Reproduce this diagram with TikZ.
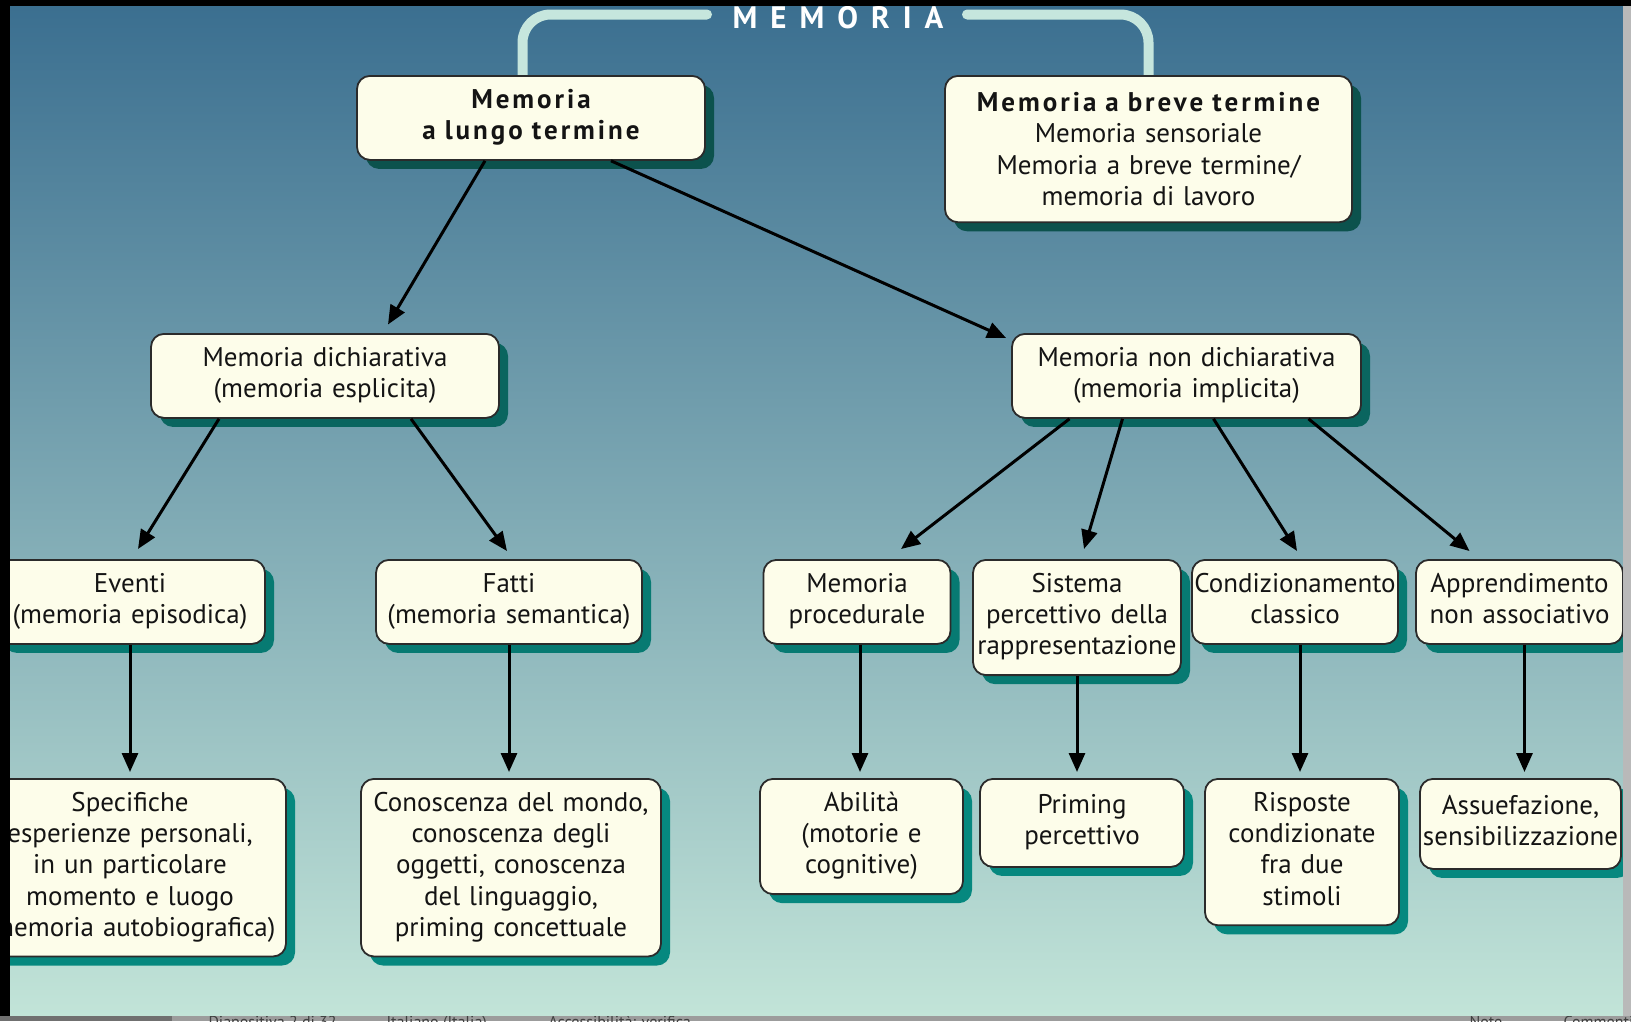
\documentclass[tikz,border=0pt]{standalone}
\usepackage{fontspec}
\setmainfont{PT Sans}
\newfontfamily\titlefont{PT Sans}[LetterSpace=42]
\newfontfamily\headfont{PT Sans}[LetterSpace=11]
\usepackage{xcolor}
\usepackage{tikz}
\usetikzlibrary{shapes, arrows.meta, positioning, shadows, backgrounds}

\definecolor{bgtop}{HTML}{3B6F90}
\definecolor{bgmid}{HTML}{80A8B6}
\definecolor{bgbot}{HTML}{C2E4D8}
\definecolor{boxfill}{HTML}{FDFDEA}
\definecolor{boxline}{HTML}{2B2B2B}
\definecolor{shone}{HTML}{0C524D}
\definecolor{shtwo}{HTML}{0A655F}
\definecolor{shthree}{HTML}{077A72}
\definecolor{shfour}{HTML}{06887F}
\definecolor{bracketcol}{HTML}{C6E6DD}
\definecolor{statusdark}{HTML}{707070}
\definecolor{statuslight}{HTML}{9C9C9C}
\newcommand{\boxfont}{\fontsize{27pt}{31.2pt}\selectfont}

\begin{document}
\begin{tikzpicture}[
            x=1pt, y=-1pt,
            block/.style={rectangle, draw=boxline, line width=1.8pt, fill=boxfill, rounded corners=13pt,
                align=center, font=\boxfont, text=black!92, inner xsep=2pt, inner ysep=10.8pt, anchor=north,
                execute at begin node=\strut, execute at end node=\strut,
                drop shadow={shadow xshift=9pt, shadow yshift=-9pt, fill=#1, opacity=1}},
            block/.default=shtwo,
            arrow/.style={line width=3pt, -{Triangle[length=19pt, width=16pt]}},
            bracketline/.style={draw=bracketcol, line width=10pt, line cap=round, rounded corners=28pt},
            status/.style={anchor=base west, font=\fontsize{16pt}{18pt}\selectfont, text=black!75}
        ]
            \useasboundingbox (0,0) rectangle (1631,1021);

            \node[text=white, font=\titlefont\bfseries\fontsize{31pt}{33pt}\selectfont, anchor=base] (titolo) at (838,28) {MEMORIA};
            \coordinate (bracketL) at (707,14.5);
            \coordinate (bracketR) at (967,14.5);

            \node[block=shone, text width=344pt, font=\headfont\bfseries\boxfont] (lungo) at (531,75) {Memoria\\a lungo termine};
            \node[block=shone, text width=403pt, inner ysep=7.7pt, execute at begin node=\rule{0pt}{28pt}] (breve) at (1148.5,75) {{\headfont\bfseries Memoria a breve termine}\\Memoria sensoriale\\Memoria a breve termine/\\memoria di lavoro};

            \node[block=shtwo, text width=344pt] (dich) at (325,333) {Memoria dichiarativa\\(memoria esplicita)};
            \node[block=shtwo, text width=345pt] (nondich) at (1186.5,333) {Memoria non dichiarativa\\(memoria implicita)};

            \node[block=shthree, text width=266pt] (eventi) at (130,559) {Eventi\\(memoria episodica)};
            \node[block=shthree, text width=262pt] (fatti) at (509,559) {Fatti\\(memoria semantica)};
            \node[block=shthree, text width=183pt] (procedurale) at (857,559) {Memoria\\procedurale};
            \node[block=shthree, text width=204pt] (sistema) at (1077,559) {Sistema\\percettivo della\\rappresentazione};
            \node[block=shthree, text width=202pt] (condiz) at (1295,559) {Condizionamento\\classico};
            \node[block=shthree, text width=203pt] (apprend) at (1519.5,559) {Apprendimento\\non associativo};

            \node[block=shfour, text width=308pt] (specifiche) at (130,778) {Specifiche\\esperienze personali,\\in un particolare\\momento e luogo\\(memoria autobiografica)};
            \node[block=shfour, text width=296pt] (conoscenza) at (511,778) {Conoscenza del mondo,\\conoscenza degli\\oggetti, conoscenza\\del linguaggio,\\priming concettuale};
            \node[block=shfour, text width=199pt] (abilita) at (861.5,778) {Abilità\\(motorie e\\cognitive)};
            \node[block=shfour, text width=200pt, minimum height=88pt] (priming) at (1082,778) {Priming\\percettivo};
            \node[block=shfour, text width=190pt] (risposte) at (1302,778) {Risposte\\condizionate\\fra due\\stimoli};
            \node[block=shfour, text width=197pt, minimum height=90pt] (assuef) at (1520.5,778) {Assuefazione,\\sensibilizzazione};

            \begin{scope}[on background layer]
                \shade[top color=bgtop, middle color=bgmid, bottom color=bgbot] (10,6) rectangle (1623,1016);
                \draw[bracketline] ([xshift=-8.5pt]lungo.north) |- (bracketL);
                \draw[bracketline] (bracketR) -| (breve.north);
            \end{scope}

            \draw[arrow] ([xshift=-46pt]lungo.south) -- ([xshift=63pt, yshift=8.5pt]dich.north);
            \draw[arrow] ([xshift=80pt]lungo.south) -- ([xshift=-5pt, yshift=-5pt]nondich.north west);
            \draw[arrow] ([xshift=-106pt]dich.south) -- ([xshift=8pt, yshift=10pt]eventi.north);
            \draw[arrow] ([xshift=86pt]dich.south) -- ([xshift=-2pt, yshift=8pt]fatti.north);
            \draw[arrow] ([xshift=-117pt]nondich.south) -- ([xshift=44pt, yshift=10pt]procedurale.north);
            \draw[arrow] ([xshift=-64pt]nondich.south) -- ([xshift=7pt, yshift=10pt]sistema.north);
            \draw[arrow] ([xshift=27pt]nondich.south) -- ([xshift=2pt, yshift=8pt]condiz.north);
            \draw[arrow] ([xshift=122pt]nondich.south) -- ([xshift=-50pt, yshift=8pt]apprend.north);

            \draw[arrow, shorten >=6pt] (eventi.south) -- (eventi.south |- specifiche.north);
            \draw[arrow, shorten >=6pt] (fatti.south) -- (fatti.south |- conoscenza.north);
            \draw[arrow, shorten >=6pt] ([xshift=3pt]procedurale.south) -- ([xshift=3pt]procedurale.south |- abilita.north);
            \draw[arrow, shorten >=6pt] (sistema.south) -- (sistema.south |- priming.north);
            \draw[arrow, shorten >=6pt] ([xshift=5pt]condiz.south) -- ([xshift=5pt]condiz.south |- risposte.north);
            \draw[arrow, shorten >=6pt] ([xshift=5pt]apprend.south) -- ([xshift=5pt]apprend.south |- assuef.north);

            \fill[black] (0,0) rectangle (1631,6);
            \fill[black] (0,0) rectangle (10,1016);
            \fill[gray!55] (1623,6) rectangle (1631,1016);
            \fill[statusdark] (0,1016) rectangle (172,1021);
            \fill[statuslight] (172,1016) rectangle (1631,1021);
            \begin{scope}
                \clip (0,1016) rectangle (1631,1021);
                \node[status] (diapo) at (205,1027) {Diapositiva 2 di 32};
                \node[status] (lingua) at (383,1027) {Italiano (Italia)};
                \node[status] (access) at (545,1027) {Accessibilità: verifica};
                \node[status] (note) at (1466,1027) {Note};
                \node[status] (commenti) at (1560,1027) {Commenti};
            \end{scope}
        \end{tikzpicture}
\end{document}
